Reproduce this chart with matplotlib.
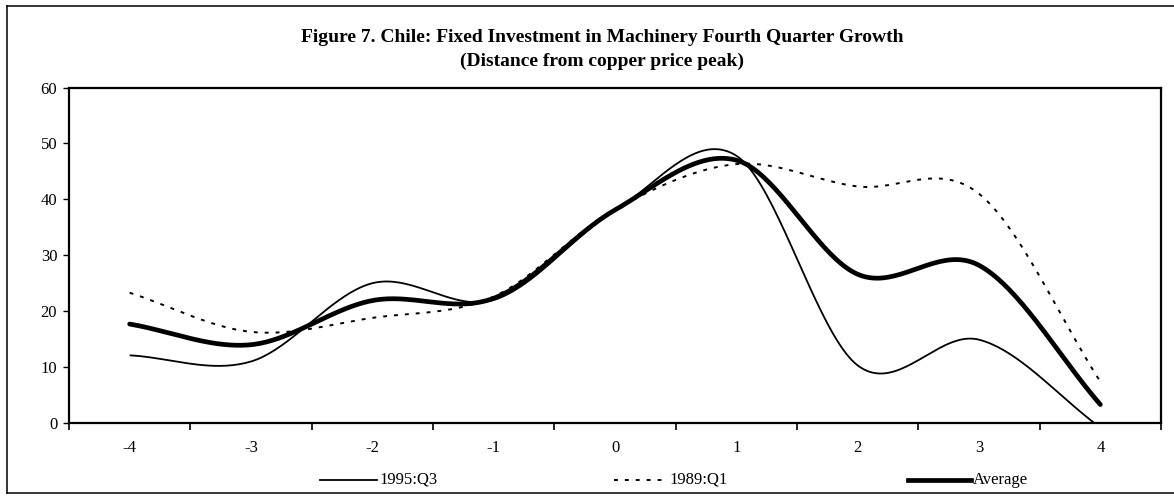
import numpy as np
import matplotlib
matplotlib.use("Agg")
import matplotlib.pyplot as plt
from matplotlib.lines import Line2D

# ---- data ----
categories = ["-4", "-3", "-2", "-1", "0", "1", "2", "3", "4"]
q3_1995 = [12.1, 11.0, 25.0, 22.0, 38.0, 47.8, 10.3, 14.9, -0.8]
q1_1989 = [23.3, 16.3, 18.8, 22.6, 38.2, 46.3, 42.3, 41.0, 7.4]
average = [17.7, 14.0, 21.9, 22.3, 38.1, 47.0, 26.6, 28.2, 3.3]
series_names = ["1995:Q3", "1989:Q1", "Average"]
y_ticks = [0, 10, 20, 30, 40, 50, 60]
title_line1 = "Figure 7. Chile: Fixed Investment in Machinery Fourth Quarter Growth"
title_line2 = "(Distance from copper price peak)"

plt.rcParams["font.family"] = ["Liberation Serif", "DejaVu Serif"]

DOTTED = (0, (2.0, 3.6))


def smooth(xs, ys, n=40):
    """Excel-style smoothed line (Catmull-Rom / Bezier through the points)."""
    xs = np.asarray(xs, float)
    ys = np.asarray(ys, float)
    px, py = [], []
    m = len(xs)
    for i in range(m - 1):
        x0, y0 = xs[i], ys[i]
        x1, y1 = xs[i + 1], ys[i + 1]
        if i == 0:
            tx0, ty0 = (x1 - x0), (y1 - y0)
        else:
            tx0, ty0 = (x1 - xs[i - 1]) / 2, (y1 - ys[i - 1]) / 2
        if i + 1 == m - 1:
            tx1, ty1 = (x1 - x0), (y1 - y0)
        else:
            tx1, ty1 = (xs[i + 2] - x0) / 2, (ys[i + 2] - y0) / 2
        t = np.linspace(0, 1, n, endpoint=(i == m - 2))
        h00 = 2 * t**3 - 3 * t**2 + 1
        h10 = t**3 - 2 * t**2 + t
        h01 = -2 * t**3 + 3 * t**2
        h11 = t**3 - t**2
        px.append(h00 * x0 + h10 * tx0 + h01 * x1 + h11 * tx1)
        py.append(h00 * y0 + h10 * ty0 + h01 * y1 + h11 * ty1)
    return np.concatenate(px), np.concatenate(py)


W, H = 1174, 496
fig = plt.figure(figsize=(W / 100, H / 100), dpi=100)
ax = fig.add_axes([69 / W, 1 - 423 / H, (1161 - 69) / W, (423 - 87.5) / H])

xpos = np.arange(len(categories))

sx, sy = smooth(xpos, q3_1995)
ax.plot(sx, sy, color="black", lw=1.3, solid_capstyle="butt")
sx, sy = smooth(xpos, q1_1989)
ax.plot(sx, sy, color="black", lw=1.4, linestyle=DOTTED)
sx, sy = smooth(xpos, average)
ax.plot(sx, sy, color="black", lw=3.4, solid_capstyle="round")

ax.set_xlim(-0.5, len(categories) - 0.5)
ax.set_ylim(0, 60)
ax.set_yticks(y_ticks)
ax.set_yticklabels([str(v) for v in y_ticks], fontsize=12)

# ticks at category boundaries, labels at category centres
ax.set_xticks(np.arange(len(categories) + 1) - 0.5)
ax.set_xticklabels([""] * (len(categories) + 1))
ax.set_xticks(xpos, minor=True)
ax.set_xticklabels(categories, minor=True, fontsize=12)
ax.tick_params(axis="x", which="major", direction="out", length=5, width=1.2)
ax.tick_params(axis="x", which="minor", length=0, pad=12)
ax.tick_params(axis="y", direction="out", length=4.5, width=1.0, pad=4)

for s in ax.spines.values():
    s.set_linewidth(1.6)
    s.set_color("black")

# titles
fig.text(602 / W, 1 - 37 / H, title_line1, ha="center", va="center",
         fontsize=14, fontweight="bold")
fig.text(602 / W, 1 - 61.5 / H, title_line2, ha="center", va="center",
         fontsize=14, fontweight="bold")

# legend (manual, as in the reference)
leg_y = 1 - 480 / H
legend_items = [
    (320, 377, dict(lw=1.3, linestyle="-")),
    (614, 667, dict(lw=1.4, linestyle=DOTTED)),
    (908, 971, dict(lw=3.4, linestyle="-")),
]
for (x0, x1, style), name in zip(legend_items, series_names):
    fig.add_artist(Line2D([x0 / W, x1 / W], [leg_y, leg_y], color="black",
                          transform=fig.transFigure, **style))
    fig.text((x1 + 2) / W, leg_y, name, ha="left", va="center", fontsize=12)

# outer frame (left, top, bottom)
fx0, fy0, fy1 = 7 / W, 1 - 493 / H, 1 - 6 / H
for xs_, ys_ in [([fx0, fx0], [fy0, fy1]), ([fx0, 1.0], [fy1, fy1]),
                 ([fx0, 1.0], [fy0, fy0])]:
    fig.add_artist(Line2D(xs_, ys_, color="black", lw=1.1,
                          transform=fig.transFigure))

fig.savefig("out.png", dpi=100)
